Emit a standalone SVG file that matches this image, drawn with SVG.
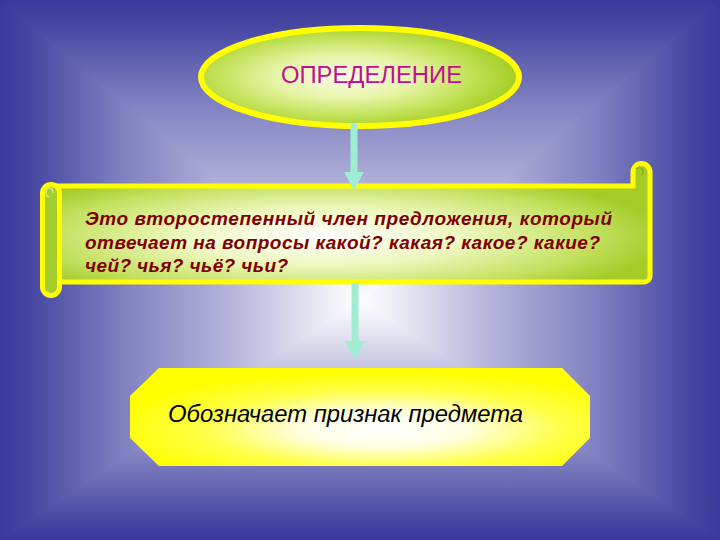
<svg xmlns="http://www.w3.org/2000/svg" width="720" height="540" viewBox="0 0 720 540">
  <defs>
    <linearGradient id="bgV" gradientUnits="userSpaceOnUse" x1="0" y1="0" x2="0" y2="540">
      <stop offset="0" stop-color="#38389a"/>
      <stop offset="0.056" stop-color="#4a4aa4"/>
      <stop offset="0.194" stop-color="#8282c2"/>
      <stop offset="0.361" stop-color="#b6b6dc"/>
      <stop offset="0.5" stop-color="#ececf6"/>
      <stop offset="0.556" stop-color="#ffffff"/>
      <stop offset="0.6" stop-color="#ececf6"/>
      <stop offset="0.711" stop-color="#b6b6dc"/>
      <stop offset="0.844" stop-color="#8282c2"/>
      <stop offset="0.956" stop-color="#4a4aa4"/>
      <stop offset="1" stop-color="#38389a"/>
    </linearGradient>
    <linearGradient id="bgL" gradientUnits="userSpaceOnUse" x1="0" y1="0" x2="360" y2="0">
      <stop offset="0" stop-color="#38389a"/>
      <stop offset="0.1" stop-color="#4a4aa4"/>
      <stop offset="0.35" stop-color="#8282c2"/>
      <stop offset="0.65" stop-color="#b6b6dc"/>
      <stop offset="0.9" stop-color="#ececf6"/>
      <stop offset="1" stop-color="#ffffff"/>
    </linearGradient>
    <linearGradient id="bgR" gradientUnits="userSpaceOnUse" x1="720" y1="0" x2="360" y2="0">
      <stop offset="0" stop-color="#38389a"/>
      <stop offset="0.1" stop-color="#4a4aa4"/>
      <stop offset="0.35" stop-color="#8282c2"/>
      <stop offset="0.65" stop-color="#b6b6dc"/>
      <stop offset="0.9" stop-color="#ececf6"/>
      <stop offset="1" stop-color="#ffffff"/>
    </linearGradient>
    <radialGradient id="greenGrad" cx="0.45" cy="0.5" r="0.55">
      <stop offset="0" stop-color="#fbfde8"/>
      <stop offset="0.4" stop-color="#e6f4a8"/>
      <stop offset="0.75" stop-color="#c0e052"/>
      <stop offset="1" stop-color="#a4cc24"/>
    </radialGradient>
    <radialGradient id="scrollGrad" cx="0.45" cy="0.62" r="0.58">
      <stop offset="0" stop-color="#ffffff"/>
      <stop offset="0.4" stop-color="#eef8c0"/>
      <stop offset="0.78" stop-color="#c4e160"/>
      <stop offset="1" stop-color="#a4cb28"/>
    </radialGradient>
    <radialGradient id="yellowGrad" cx="0.55" cy="0.62" r="0.6">
      <stop offset="0" stop-color="#ffffff"/>
      <stop offset="0.3" stop-color="#ffffe4"/>
      <stop offset="0.65" stop-color="#ffff48"/>
      <stop offset="1" stop-color="#ffff00"/>
    </radialGradient>
    <marker id="head" viewBox="0 0 18 20" refX="0" refY="10" markerWidth="18" markerHeight="20" markerUnits="userSpaceOnUse" orient="auto">
      <path d="M0,0 L18,10 L0,20 Z" fill="#a0eed2"/>
    </marker>
    <style>
      .edge { stroke: #ffff00; stroke-width: 5; }
      .conn { stroke: #a0eed2; stroke-width: 7; fill: none; marker-end: url(#head); }
      .title { font-family: "Liberation Sans", Arial, sans-serif; font-size: 23px; fill: #c0108c; }
      .def { font-family: "Liberation Sans", Arial, sans-serif; font-size: 19px; font-weight: bold; font-style: italic; fill: #7e0000; }
      .sign { font-family: "Liberation Sans", Arial, sans-serif; font-size: 23px; font-style: italic; fill: #000000; }
    </style>
  </defs>

  <g id="background">
    <rect x="0" y="0" width="720" height="540" fill="url(#bgV)"/>
    <polygon points="0,0 360,300 0,540" fill="url(#bgL)"/>
    <polygon points="720,0 360,300 720,540" fill="url(#bgR)"/>
  </g>

  <g id="node-definition">
    <ellipse cx="360" cy="77" rx="159" ry="49" fill="url(#greenGrad)" stroke="#ffff00" stroke-width="6"/>
    <text class="title" x="281" y="83" textLength="181" lengthAdjust="spacingAndGlyphs">ОПРЕДЕЛЕНИЕ</text>
  </g>

  <g id="node-scroll">
    <path class="edge" d="M55,186 H633 V172 A8.5 8.5 0 0 1 650 172 V276 A6 6 0 0 1 644 282 H55 Z" fill="url(#scrollGrad)"/>
    <path d="M636,169 A4 4 0 1 1 641,175" fill="none" stroke="#8fae1e" stroke-width="1.6"/>
    <rect class="edge" x="42.5" y="184.5" width="17" height="111" rx="8.5" fill="#a4cd2c"/>
    <path d="M49,197 A3.5 4.5 0 1 1 53,193" fill="none" stroke="#d4ec7a" stroke-width="1.6"/>
    <text class="def" x="85" y="225" textLength="527" lengthAdjust="spacing">Это второстепенный член предложения, который</text>
    <text class="def" x="85" y="249" textLength="515" lengthAdjust="spacing">отвечает на вопросы какой? какая? какое? какие?</text>
    <text class="def" x="85" y="272" textLength="203" lengthAdjust="spacing">чей? чья? чьё? чьи?</text>
  </g>

  <g id="node-sign">
    <polygon points="159,368 562,368 590,396 590,438 562,466 159,466 130,438 130,396" fill="url(#yellowGrad)"/>
    <text class="sign" x="168" y="422" textLength="355" lengthAdjust="spacingAndGlyphs">Обозначает признак предмета</text>
  </g>

  <g id="connectors">
    <line class="conn" x1="354" y1="123" x2="354" y2="172"/>
    <line class="conn" x1="355" y1="283" x2="355" y2="341"/>
  </g>
</svg>
